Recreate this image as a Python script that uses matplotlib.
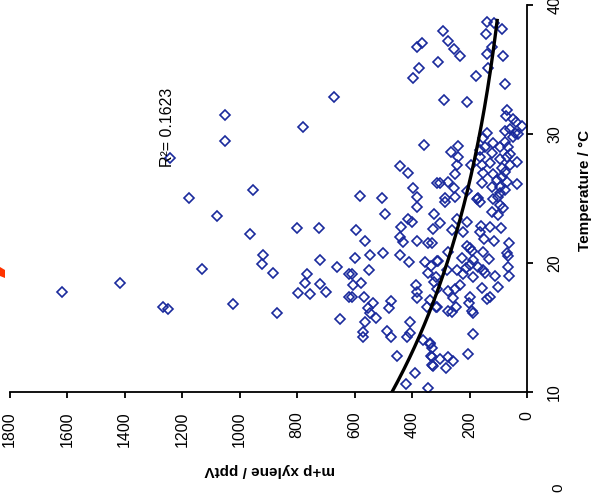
import numpy as np
import matplotlib
matplotlib.use("Agg")
import matplotlib.pyplot as plt
from matplotlib.patches import Polygon

plt.rcParams['font.family'] = ['Liberation Sans', 'DejaVu Sans']

# m+p xylene (pptV) and air temperature (deg C) for each sample
xylene = [1618, 1416, 1265, 1250, 1176, 1242, 671, 1051, 780, 1051,
          952, 1077, 801, 723, 963, 917, 719, 922, 1130, 661,
          884, 766, 618, 771, 719, 699, 797, 755, 618, 1021,
          871, 650, 382, 364, 311, 376, 395, 358, 442, 415,
          312, 395, 581, 505, 384, 384, 494, 323, 413, 401,
          438, 595, 328, 442, 430, 562, 384, 343, 502, 546,
          442, 598, 410, 355, 314, 335, 548, 610, 343, 578,
          604, 386, 323, 384, 610, 567, 384, 474, 535, 552,
          479, 347, 317, 546, 525, 563, 407, 571, 571, 486,
          473, 407, 418, 363, 337, 453, 335, 331, 390, 422,
          343, 140, 114, 88, 291, 143, 274, 254, 233, 123,
          140, 85, 135, 177, 77, 289, 210, 69, 73, 48,
          38, 18, 59, 77, 42, 30, 48, 140, 152, 117,
          77, 94, 65, 59, 239, 265, 163, 146, 123, 71,
          239, 163, 129, 94, 242, 196, 158, 59, 36, 88,
          152, 77, 250, 117, 88, 303, 274, 105, 71, 158,
          36, 254, 123, 94, 77, 210, 285, 250, 169, 100,
          117, 285, 175, 163, 94, 94, 82, 123, 100, 303,
          245, 210, 262, 222, 161, 129, 163, 91, 150, 115,
          62, 210, 198, 192, 274, 331, 152, 71, 65, 227,
          187, 131, 308, 198, 212, 169, 152, 146, 245, 279,
          65, 222, 111, 187, 62, 316, 233, 158, 250, 100,
          314, 274, 256, 198, 129, 138, 337, 314, 201, 247,
          274, 262, 192, 187, 187, 337, 331, 204, 331, 303,
          274, 256, 326, 282]
temperature = [17.73, 18.43, 16.57, 16.43, 25.00, 28.12, 32.85, 31.47, 30.52, 29.48,
               25.68, 23.62, 22.69, 22.69, 22.25, 20.64, 20.26, 19.92, 19.56, 19.71,
               19.22, 19.15, 19.12, 18.43, 18.35, 17.75, 17.65, 17.62, 17.39, 16.82,
               16.12, 15.66, 36.72, 37.03, 35.61, 35.14, 34.32, 29.15, 27.54, 26.95,
               26.18, 25.84, 25.19, 25.06, 25.14, 24.32, 23.80, 23.80, 23.39, 23.16,
               22.81, 22.56, 22.61, 22.04, 21.65, 21.73, 21.73, 21.53, 20.75, 20.62,
               20.62, 20.36, 20.05, 20.05, 20.18, 19.77, 19.46, 19.15, 19.20, 18.43,
               18.29, 18.29, 18.55, 17.78, 17.39, 17.39, 17.26, 17.05, 16.88, 16.49,
               16.49, 16.61, 16.57, 16.10, 15.71, 15.45, 15.45, 14.67, 14.29, 14.75,
               14.29, 14.60, 14.29, 14.03, 13.72, 12.81, 12.81, 12.09, 11.45, 10.62,
               10.29, 38.71, 38.63, 38.12, 38.01, 37.75, 37.23, 36.59, 36.07, 36.77,
               36.20, 36.07, 35.09, 34.52, 33.88, 32.64, 32.50, 31.86, 31.40, 31.14,
               30.95, 30.62, 30.37, 30.26, 30.05, 29.98, 29.79, 30.10, 29.67, 29.33,
               29.40, 29.02, 28.97, 28.45, 29.07, 28.63, 28.76, 29.02, 28.55, 28.24,
               28.24, 28.24, 27.73, 28.04, 27.60, 27.60, 27.60, 27.60, 27.85, 27.34,
               27.00, 27.08, 26.90, 26.90, 26.69, 26.23, 26.30, 26.43, 26.30, 26.18,
               26.12, 25.79, 25.92, 25.92, 25.66, 25.60, 25.02, 25.09, 25.02, 25.14,
               24.96, 24.75, 24.94, 24.75, 25.40, 24.50, 24.24, 23.98, 23.72, 23.08,
               23.39, 23.20, 22.56, 22.43, 22.87, 22.77, 22.43, 22.69, 21.84, 21.73,
               21.57, 21.32, 21.14, 20.93, 20.88, 21.53, 20.88, 20.75, 20.57, 20.36,
               20.23, 20.29, 20.16, 19.85, 19.64, 19.71, 19.46, 19.25, 19.46, 19.46,
               19.67, 19.12, 18.99, 18.89, 19.02, 18.89, 18.29, 18.04, 17.96, 18.16,
               17.96, 17.85, 17.26, 17.39, 17.39, 17.19, 17.13, 16.61, 16.88, 16.61,
               16.30, 16.22, 16.30, 16.15, 14.50, 13.82, 13.39, 12.95, 12.74, 12.53,
               12.74, 12.43, 12.02, 11.84]

# exponential trendline  y = a * exp(b * T)
fit_a = 793.0
fit_b = -0.0524
fit_r2 = 0.1623
fit_t_range = (10.0, 38.8)

xylene_ticks = [0, 200, 400, 600, 800, 1000, 1200, 1400, 1600, 1800]
temp_ticks = [10, 20, 30, 40]

navy = '#1a2a9c'

fig = plt.figure(figsize=(5.91, 4.94), dpi=100)
# chart is drawn turned on its side: temperature runs up the right edge,
# xylene runs right-to-left along the bottom
ax = fig.add_axes([9.5 / 591, 102 / 494, 517.5 / 591, 387 / 494])

ax.plot(xylene, temperature, linestyle='none', marker='D', markersize=5.3,
        markerfacecolor='none', markeredgecolor=navy, markeredgewidth=1.2)

t_fit = np.linspace(fit_t_range[0], fit_t_range[1], 200)
ax.plot(fit_a * np.exp(fit_b * t_fit), t_fit, color='black', linewidth=2.4)

ax.set_xlim(1800, 0)
ax.set_ylim(10, 40)

ax.spines['top'].set_visible(False)
ax.spines['left'].set_visible(False)
ax.spines['bottom'].set_linewidth(1.3)
ax.spines['right'].set_linewidth(1.3)

ax.set_xticks(xylene_ticks)
ax.set_xticklabels([str(v) for v in xylene_ticks], rotation=90)
ax.set_yticks(temp_ticks)
ax.set_yticklabels([str(v) for v in temp_ticks], rotation=90, va='center')
ax.yaxis.tick_right()
ax.tick_params(axis='x', direction='out', length=4, width=1.3, pad=10, labelsize=11.5)
ax.tick_params(axis='y', direction='out', length=4.5, width=1.3, pad=10, labelsize=11.5)

ax.text(1249, 30.54, 'R\u00b2= ' + f'{fit_r2:.4f}', rotation=90,
        ha='center', va='center', fontsize=11.5)

fig.text(585 / 591, 1 - 190 / 494, 'Temperature / \u00b0C', rotation=90,
         ha='center', va='center', fontsize=11, fontweight='bold')
fig.text(270 / 591, 1 - 470 / 494, 'm+p xylene / pptV', rotation=180,
         ha='center', va='center', fontsize=11, fontweight='bold')

# bits of the neighbouring panels showing at the edges
fig.text(558 / 591, 1 - 488 / 494, '0', rotation=90, ha='center', va='center',
         fontsize=11)
fig.add_artist(Polygon([[0 / 591, 1 - 267 / 494], [5 / 591, 1 - 270 / 494],
                        [5 / 591, 1 - 278 / 494], [0 / 591, 1 - 276 / 494]],
                       closed=True, transform=fig.transFigure,
                       facecolor='#ff3300', edgecolor='none'))

fig.savefig('out.png', dpi=100)
